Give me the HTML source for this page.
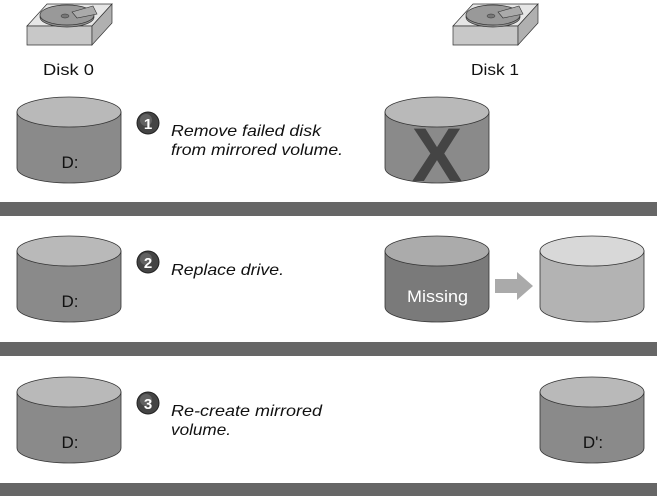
<!DOCTYPE html>
<html><head><meta charset="utf-8"><style>
html,body{margin:0;padding:0;background:#fff;}
svg{display:block}
text{font-family:"Liberation Sans",sans-serif}
</style></head><body>
<svg width="657" height="496" viewBox="0 0 657 496" xmlns="http://www.w3.org/2000/svg">
<defs>
<g id="cylA">
<path d="M0,15 V71 A52,15 0 0 0 104,71 V15 Z" fill="#8a8a8a" stroke="#333" stroke-width="0.8"/>
<ellipse cx="52" cy="15" rx="52" ry="15" fill="#b9b9b9" stroke="#333" stroke-width="0.8"/>
</g>
<g id="cylM">
<path d="M0,15 V71 A52,15 0 0 0 104,71 V15 Z" fill="#7a7a7a" stroke="#333" stroke-width="0.8"/>
<ellipse cx="52" cy="15" rx="52" ry="15" fill="#ababab" stroke="#333" stroke-width="0.8"/>
</g>
<g id="cylL">
<path d="M0,15 V71 A52,15 0 0 0 104,71 V15 Z" fill="#b3b3b3" stroke="#333" stroke-width="0.8"/>
<ellipse cx="52" cy="15" rx="52" ry="15" fill="#d8d8d8" stroke="#333" stroke-width="0.8"/>
</g>
<g id="disk">
<polygon points="0,26 20,4 85,4 65,26" fill="#e6e6e6" stroke="#333" stroke-width="0.7"/>
<polygon points="0,26 65,26 65,45 0,45" fill="#c8c8c8" stroke="#333" stroke-width="0.7"/>
<polygon points="65,26 85,4 85,23 65,45" fill="#b0b0b0" stroke="#333" stroke-width="0.7"/>
<ellipse cx="40" cy="17" rx="27" ry="10" fill="#8e8e8e" stroke="#333" stroke-width="0.7"/>
<ellipse cx="40" cy="15" rx="27" ry="10" fill="#999" stroke="#333" stroke-width="0.7"/>
<ellipse cx="38" cy="16" rx="4" ry="2" fill="#777" stroke="#333" stroke-width="0.5"/>
<polygon points="45,12 66,6 70,14 50,18" fill="#aaa" stroke="#333" stroke-width="0.6"/>
</g>
<g id="num">
<circle cx="11" cy="11" r="11" fill="#444" stroke="#222"/>
<circle cx="9" cy="8" r="6" fill="#777" opacity="0.6"/>
</g>
</defs>

<use href="#disk" x="27" y="0"/>
<use href="#disk" x="453" y="0"/>
<text x="43" y="75" font-size="16" textLength="51" lengthAdjust="spacingAndGlyphs" fill="#111">Disk 0</text>
<text x="471" y="75" font-size="16" textLength="48" lengthAdjust="spacingAndGlyphs" fill="#111">Disk 1</text>

<!-- row 1 -->
<use href="#cylA" x="17" y="97"/>
<text x="70" y="168" font-size="17" text-anchor="middle" fill="#111">D:</text>
<use href="#num" x="137" y="112"/>
<text x="148" y="129" font-size="15" font-weight="bold" text-anchor="middle" fill="#fff">1</text>
<text x="171" y="136" font-size="16" font-style="italic" textLength="150" lengthAdjust="spacingAndGlyphs" fill="#111">Remove failed disk</text>
<text x="171" y="155" font-size="16" font-style="italic" textLength="172" lengthAdjust="spacingAndGlyphs" fill="#111">from mirrored volume.</text>
<use href="#cylA" x="385" y="97"/>
<text x="437" y="181" font-size="76" font-weight="bold" text-anchor="middle" fill="#444">X</text>
<rect x="0" y="202" width="657" height="14" fill="#666"/>

<!-- row 2 -->
<use href="#cylA" x="17" y="236"/>
<text x="70" y="307" font-size="17" text-anchor="middle" fill="#111">D:</text>
<use href="#num" x="137" y="251"/>
<text x="148" y="268" font-size="15" font-weight="bold" text-anchor="middle" fill="#fff">2</text>
<text x="171" y="275" font-size="16" font-style="italic" textLength="113" lengthAdjust="spacingAndGlyphs" fill="#111">Replace drive.</text>
<use href="#cylM" x="385" y="236"/>
<text x="407" y="302" font-size="17" textLength="61" lengthAdjust="spacingAndGlyphs" fill="#fff">Missing</text>
<polygon points="495,279 517,279 517,272 533,286 517,300 517,293 495,293" fill="#aaa"/>
<use href="#cylL" x="540" y="236"/>
<rect x="0" y="342" width="657" height="14" fill="#666"/>

<!-- row 3 -->
<use href="#cylA" x="17" y="377"/>
<text x="70" y="448" font-size="17" text-anchor="middle" fill="#111">D:</text>
<use href="#num" x="137" y="392"/>
<text x="148" y="409" font-size="15" font-weight="bold" text-anchor="middle" fill="#fff">3</text>
<text x="171" y="416" font-size="16" font-style="italic" textLength="151" lengthAdjust="spacingAndGlyphs" fill="#111">Re-create mirrored</text>
<text x="171" y="435" font-size="16" font-style="italic" textLength="60" lengthAdjust="spacingAndGlyphs" fill="#111">volume.</text>
<use href="#cylA" x="540" y="377"/>
<text x="593" y="448" font-size="17" text-anchor="middle" fill="#111">D':</text>
<rect x="0" y="483" width="657" height="13" fill="#666"/>
</svg>
</body></html>
